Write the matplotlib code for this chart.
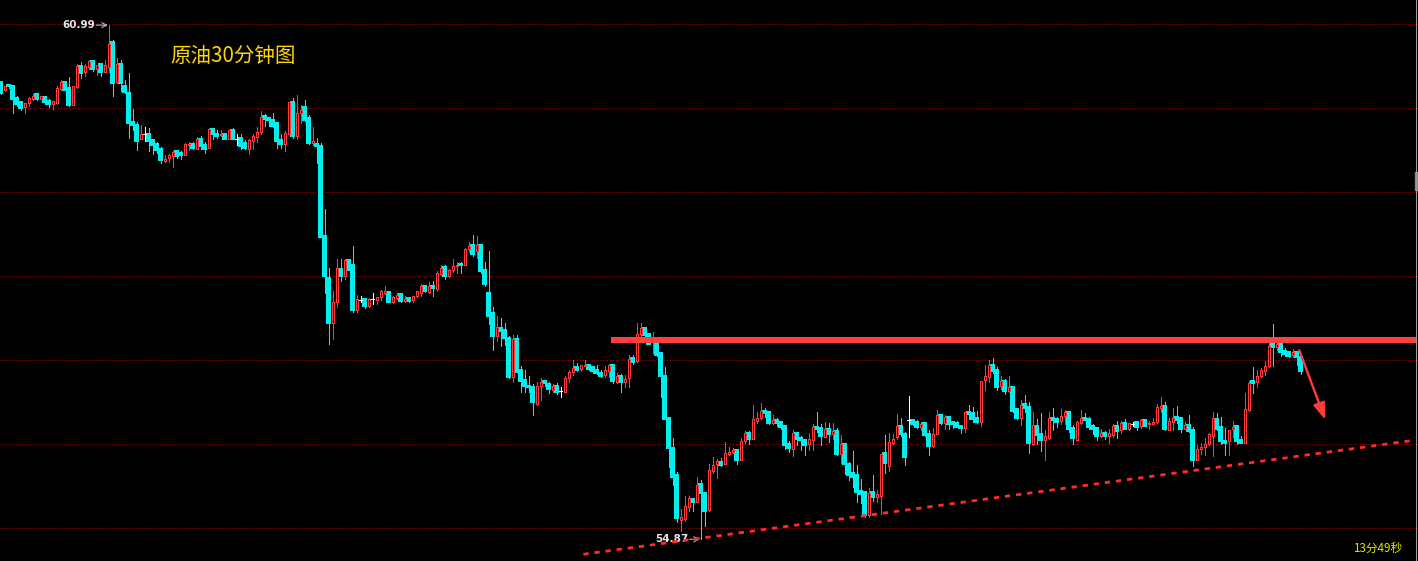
import matplotlib
matplotlib.use("Agg")
import matplotlib.pyplot as plt
from matplotlib.patches import Rectangle
from matplotlib.collections import PatchCollection, LineCollection

plt.rcParams['font.family'] = ['Noto Sans CJK SC', 'DejaVu Sans']

# ---- data: 30-minute crude oil candles (open, high, low, close) ----
opens = [
 60.31,60.22,60.28,60.26,60.12,60.07,60.02,60.06,60.11,60.17,
 60.11,60.14,60.09,60.05,60.06,60.23,60.31,60.24,60.04,60.25,
 60.50,60.43,60.49,60.56,60.47,60.53,60.43,60.49,60.79,60.31,
 60.53,60.26,60.18,59.84,59.80,59.64,59.69,59.70,59.62,59.57,
 59.52,59.37,59.41,59.43,59.49,59.47,59.44,59.56,59.58,59.52,
 59.64,59.56,59.53,59.75,59.70,59.68,59.70,59.64,59.74,59.64,
 59.65,59.59,59.51,59.61,59.66,59.72,59.91,59.88,59.86,59.82,
 59.62,59.57,59.70,60.07,59.67,59.94,60.01,59.89,59.59,59.58,
 59.55,58.48,57.98,57.45,57.69,58.09,58.00,58.20,58.14,57.60,
 57.72,57.73,57.65,57.73,57.72,57.75,57.80,57.81,57.69,57.74,
 57.79,57.71,57.74,57.72,57.76,57.80,57.88,57.81,57.88,57.85,
 58.03,58.11,58.00,58.07,58.12,58.15,58.13,58.33,58.37,58.30,
 58.37,58.07,57.80,57.56,57.29,57.38,57.36,57.26,56.80,57.25,
 56.88,56.76,56.70,56.68,56.48,56.69,56.75,56.72,56.65,56.69,
 56.63,56.62,56.79,56.86,56.92,56.90,56.93,56.95,56.92,56.89,
 56.85,56.83,56.87,56.95,56.74,56.81,56.74,56.79,57.03,56.99,
 57.31,57.39,57.31,57.22,57.21,57.09,56.81,56.31,55.96,55.64,
 55.10,55.11,55.25,55.35,55.31,55.53,55.42,55.22,55.68,55.77,
 55.79,55.77,55.88,55.91,55.93,55.81,56.04,56.13,56.06,56.28,
 56.31,56.40,56.38,56.25,56.29,56.27,56.22,56.00,55.94,56.13,
 56.07,56.05,56.00,56.05,56.21,56.19,56.09,56.18,56.12,56.16,
 55.88,56.00,55.77,55.66,55.63,55.44,55.43,55.16,55.43,55.37,
 55.39,55.90,55.74,56.02,56.09,56.22,56.12,56.29,56.29,56.27,
 56.21,56.25,56.12,55.98,56.12,56.35,56.25,56.33,56.27,56.25,
 56.22,56.19,56.38,56.37,56.31,56.27,56.77,56.80,56.94,56.88,
 56.69,56.75,56.64,56.68,56.42,56.31,56.48,56.44,56.00,56.22,
 56.12,56.05,56.08,56.31,56.30,56.28,56.34,56.38,56.19,56.05,
 56.25,56.31,56.30,56.22,56.19,56.10,56.13,56.10,56.11,56.22,
 56.17,56.25,56.18,56.24,56.27,56.22,56.29,56.24,56.24,56.27,
 56.43,56.46,56.17,56.27,56.32,56.31,56.18,56.23,56.17,55.81,
 55.95,55.97,56.00,56.10,56.30,56.21,56.04,56.04,56.18,56.22,
 56.05,56.02,56.41,56.75,56.74,56.81,56.87,56.93,57.21,57.16,
 57.20,57.11,57.10,57.06,57.10,57.04]
highs = [
 60.31,60.27,60.29,60.28,60.15,60.09,60.06,60.13,60.17,60.17,
 60.15,60.15,60.11,60.09,60.26,60.34,60.31,60.37,60.26,60.53,
 60.55,60.53,60.57,60.58,60.52,60.54,60.57,60.99,60.81,60.60,
 60.57,60.34,60.42,59.99,59.84,59.80,59.78,59.77,59.63,59.60,
 59.54,59.44,59.46,59.49,59.49,59.49,59.59,59.60,59.60,59.66,
 59.67,59.60,59.77,59.75,59.74,59.74,59.70,59.74,59.77,59.70,
 59.69,59.62,59.64,59.69,59.78,59.97,59.93,59.89,59.95,59.82,
 59.70,59.73,60.07,60.12,60.16,60.04,60.10,59.92,59.78,59.65,
 59.59,58.80,58.10,57.82,58.21,58.21,58.21,58.20,58.36,57.78,
 57.77,57.73,57.74,57.80,57.75,57.84,57.88,57.81,57.77,57.80,
 57.80,57.76,57.74,57.77,57.83,57.91,57.89,57.93,57.94,58.06,
 58.13,58.13,58.09,58.21,58.17,58.17,58.34,58.41,58.49,58.48,
 58.37,58.17,58.30,57.63,57.53,57.50,57.44,57.29,57.30,57.30,
 56.93,56.88,56.81,56.72,56.74,56.79,56.75,56.74,56.72,56.73,
 56.68,56.81,56.88,57.00,56.97,56.95,57.00,56.95,56.92,56.95,
 56.89,56.93,56.96,56.95,56.85,56.84,56.83,57.06,57.06,57.45,
 57.45,57.40,57.31,57.34,57.22,57.10,56.92,56.31,56.08,55.67,
 55.23,55.39,55.39,55.36,55.61,55.58,55.43,55.77,55.85,55.82,
 55.84,56.03,55.97,55.96,55.94,56.07,56.16,56.16,56.47,56.38,
 56.49,56.43,56.40,56.35,56.31,56.27,56.23,56.04,56.17,56.13,
 56.10,56.05,56.13,56.24,56.38,56.24,56.27,56.25,56.25,56.19,
 56.11,56.00,55.79,55.92,55.75,55.59,55.44,55.48,55.63,55.46,
 55.89,56.11,56.13,56.12,56.36,56.31,56.15,56.57,56.30,56.29,
 56.27,56.25,56.17,56.19,56.41,56.36,56.35,56.34,56.28,56.28,
 56.23,56.38,56.47,56.44,56.40,56.75,56.94,57.00,57.03,56.92,
 56.81,56.78,56.81,56.69,56.43,56.53,56.59,56.50,56.38,56.30,
 56.37,56.17,56.38,56.43,56.33,56.42,56.41,56.40,56.23,56.28,
 56.41,56.37,56.33,56.24,56.19,56.18,56.16,56.18,56.24,56.28,
 56.28,56.30,56.25,56.27,56.28,56.30,56.30,56.28,56.31,56.48,
 56.56,56.50,56.31,56.43,56.46,56.31,56.27,56.35,56.21,55.99,
 56.02,56.08,56.14,56.39,56.37,56.33,56.20,56.17,56.28,56.22,
 56.10,56.61,56.75,56.92,56.89,56.91,56.99,57.21,57.43,57.21,
 57.20,57.15,57.11,57.14,57.10,57.04]
lows = [
 60.17,60.21,60.24,59.95,60.03,59.98,59.94,60.03,60.10,60.10,
 60.11,60.05,60.01,59.99,60.05,60.22,60.22,60.03,60.04,60.24,
 60.36,60.38,60.47,60.45,60.40,60.39,60.43,60.43,60.15,60.30,
 60.21,60.18,59.65,59.74,59.50,59.64,59.61,59.49,59.46,59.47,
 59.35,59.36,59.36,59.30,59.41,59.40,59.44,59.50,59.52,59.52,
 59.52,59.47,59.53,59.64,59.65,59.67,59.63,59.64,59.63,59.56,
 59.51,59.51,59.46,59.51,59.60,59.69,59.79,59.79,59.78,59.53,
 59.53,59.49,59.70,59.65,59.64,59.82,59.85,59.58,59.56,59.35,
 58.47,57.80,57.19,57.25,57.64,57.94,57.97,58.08,57.57,57.57,
 57.69,57.62,57.63,57.67,57.67,57.72,57.79,57.69,57.68,57.73,
 57.69,57.69,57.69,57.69,57.75,57.76,57.81,57.80,57.77,57.83,
 58.01,57.97,57.99,58.05,58.04,58.04,58.13,58.29,58.24,58.22,
 58.04,57.88,57.43,57.12,57.23,57.17,57.18,56.79,56.74,56.86,
 56.62,56.62,56.62,56.35,56.47,56.53,56.69,56.61,56.62,56.60,
 56.56,56.62,56.74,56.82,56.87,56.87,56.93,56.88,56.85,56.84,
 56.80,56.80,56.80,56.73,56.73,56.62,56.68,56.68,56.96,56.98,
 57.29,57.29,57.20,57.09,57.05,56.56,56.30,55.73,55.52,55.08,
 54.97,55.09,55.21,55.21,55.31,54.87,55.03,55.21,55.66,55.60,
 55.74,55.77,55.87,55.90,55.77,55.81,56.02,56.00,56.06,56.25,
 56.30,56.32,56.24,56.24,56.22,56.18,55.94,55.91,55.86,55.99,
 55.93,55.87,55.93,55.93,56.15,55.99,56.09,56.03,56.06,55.87,
 55.78,55.65,55.58,55.49,55.31,55.30,55.13,55.13,55.33,55.31,
 55.17,55.66,55.68,56.00,56.06,56.10,55.75,56.09,56.23,56.19,
 56.17,56.10,55.87,55.97,56.12,56.24,56.18,56.18,56.19,56.21,
 56.14,56.15,56.30,56.27,56.25,56.22,56.65,56.74,56.85,56.65,
 56.66,56.60,56.62,56.39,56.30,56.23,56.39,55.90,55.99,56.00,
 55.92,55.81,56.06,56.17,56.21,56.24,56.24,56.15,56.00,56.05,
 56.24,56.29,56.18,56.12,56.05,56.09,56.06,56.02,56.09,56.08,
 56.14,56.18,56.17,56.22,56.17,56.19,56.22,56.18,56.24,56.25,
 56.38,56.17,56.17,56.17,56.25,56.15,56.18,56.15,55.74,55.81,
 55.89,55.87,55.99,55.86,56.17,56.00,55.87,55.87,56.09,56.00,
 56.02,56.02,56.40,56.61,56.68,56.80,56.83,56.92,56.93,57.12,
 57.05,57.05,57.04,57.04,56.95,56.84]
closes = [
 60.18,60.26,60.26,60.11,60.05,60.00,60.06,60.12,60.15,60.11,
 60.15,60.07,60.05,60.09,60.24,60.31,60.22,60.04,60.26,60.50,
 60.42,60.50,60.56,60.47,60.52,60.43,60.51,60.76,60.30,60.53,
 60.30,60.19,59.83,59.80,59.61,59.70,59.69,59.61,59.56,59.50,
 59.38,59.40,59.44,59.48,59.43,59.44,59.57,59.58,59.53,59.63,
 59.55,59.52,59.75,59.69,59.67,59.70,59.64,59.74,59.64,59.64,
 59.55,59.53,59.62,59.67,59.72,59.90,59.87,59.86,59.79,59.61,
 59.57,59.71,60.07,59.67,59.95,59.98,59.86,59.59,59.61,59.55,
 58.47,58.00,57.45,57.70,58.10,58.00,58.20,58.08,57.60,57.73,
 57.72,57.65,57.73,57.73,57.75,57.82,57.83,57.69,57.75,57.78,
 57.71,57.73,57.71,57.77,57.82,57.89,57.82,57.89,57.86,58.04,
 58.10,58.00,58.07,58.12,58.13,58.14,58.32,58.36,58.26,58.37,
 58.06,57.91,57.53,57.29,57.40,57.35,57.26,56.80,57.25,56.86,
 56.75,56.69,56.68,56.50,56.70,56.74,56.73,56.66,56.69,56.62,
 56.63,56.79,56.86,56.91,56.88,56.94,56.95,56.90,56.87,56.85,
 56.81,56.89,56.95,56.75,56.81,56.74,56.78,57.02,56.98,57.31,
 57.39,57.30,57.20,57.25,57.06,56.81,56.30,55.96,55.61,55.12,
 55.14,55.27,55.36,55.31,55.52,55.42,55.21,55.69,55.75,55.80,
 55.75,55.90,55.91,55.93,55.81,56.04,56.13,56.06,56.30,56.31,
 56.40,56.37,56.25,56.29,56.25,56.21,55.99,55.96,56.13,56.06,
 56.05,55.99,56.06,56.21,56.18,56.10,56.18,56.12,56.16,55.88,
 56.00,55.77,55.63,55.61,55.43,55.41,55.16,55.42,55.37,55.41,
 55.89,55.78,56.03,56.06,56.22,56.12,55.85,56.29,56.24,56.21,
 56.24,56.11,55.98,56.12,56.35,56.25,56.33,56.24,56.24,56.21,
 56.19,56.38,56.36,56.30,56.27,56.75,56.81,56.94,56.87,56.68,
 56.75,56.63,56.68,56.40,56.31,56.47,56.43,56.02,56.23,56.11,
 56.05,56.10,56.31,56.29,56.27,56.34,56.38,56.18,56.08,56.27,
 56.31,56.29,56.21,56.18,56.10,56.13,56.10,56.13,56.22,56.16,
 56.25,56.18,56.25,56.24,56.21,56.29,56.22,56.25,56.27,56.44,
 56.46,56.18,56.28,56.31,56.29,56.18,56.23,56.16,55.81,55.95,
 55.97,56.00,56.12,56.31,56.18,56.04,56.02,56.17,56.21,56.04,
 56.02,56.42,56.73,56.73,56.81,56.89,56.93,57.17,57.16,57.20,
 57.10,57.08,57.05,57.10,57.04,56.87]

price_levels = [55, 56, 57, 58, 59, 60, 61]
high_label = "60.99"
low_label = "54.87"
title_text = "原油30分钟图"
timer_text = "13分49秒"
resistance = 57.24
support_start = (145.7, 54.69)
support_end = (353.7, 56.05)
arrow_start = (324.7, 57.12)
arrow_end = (331.2, 56.29)

# ---- styling ----
BG = "#000000"
UP = "#ff3c3c"
DOWN = "#00f0f0"
DOJI = "#ffffff"
GRID = "#8c0000"

W, H, DPI = 1418, 561, 100
fig = plt.figure(figsize=(W / DPI, H / DPI), dpi=DPI, facecolor=BG)
ax = fig.add_axes([0, 0, 1, 1], facecolor=BG)
ax.set_xlim(-0.125, (W - 0.5) / 4)
ax.set_ylim(61 - (H - 24.3) / 84, 61 + 24.3 / 84)
ax.axis("off")

px = 1.0 / DPI * 72  # one pixel in points

for lv in price_levels:
    ax.axhline(lv, color=GRID, lw=px, ls=(0, (1.5, 1.5)), zorder=1)

wick_segs, wick_cols = [], []
up_rects, down_rects, doji_segs = [], [], []
for i, (o, h, l, c) in enumerate(zip(opens, highs, lows, closes)):
    if c > o:
        col = UP
    elif c < o:
        col = DOWN
    else:
        col = DOJI
    wick_segs.append([(i, l), (i, h)])
    wick_cols.append(col)
    lo, hi = min(o, c), max(o, c)
    if col == UP:
        up_rects.append(Rectangle((i - 0.25, lo), 0.5, hi - lo))
    elif col == DOWN:
        down_rects.append(Rectangle((i - 0.375, lo), 0.75, hi - lo))
    else:
        doji_segs.append([(i - 0.375, o), (i + 0.375, o)])

ax.add_collection(LineCollection(wick_segs, colors=wick_cols, linewidths=px,
                                 zorder=2, antialiased=False))
ax.add_collection(PatchCollection(down_rects, facecolor=DOWN, edgecolor=DOWN,
                                  linewidth=0.3, zorder=3, antialiased=False))
ax.add_collection(PatchCollection(up_rects, facecolor=BG, edgecolor=UP,
                                  linewidth=px, zorder=3, antialiased=False))
ax.add_collection(LineCollection(doji_segs, colors=DOJI, linewidths=px,
                                 zorder=3, antialiased=False))

# resistance line
ax.plot([152.7, (W - 3) / 4], [resistance, resistance], color="#ff4040",
        lw=6 * px, solid_capstyle="butt", zorder=4)
# support dashed line
ax.plot([support_start[0], support_end[0]], [support_start[1], support_end[1]],
        color="#ff2a2a", lw=2.8 * px, ls=(0, (1.9, 2.1)), zorder=4)
# projection arrow
ax.annotate("", xy=arrow_end, xytext=arrow_start,
            arrowprops=dict(arrowstyle="-|>,head_length=1.0,head_width=0.35",
                            color="#ff3a3a", lw=2.4 * px,
                            shrinkA=0, shrinkB=0), zorder=5)

# high / low labels
hi_idx = highs.index(max(highs))
lo_idx = lows.index(min(lows))
arrow_kw = dict(arrowstyle="->,head_length=0.35,head_width=0.18",
                color="#c8c8c8", lw=px, shrinkA=0, shrinkB=0)
ax.annotate("", xy=(hi_idx - 0.2, max(highs)), xytext=(hi_idx - 3.1, max(highs)),
            arrowprops=arrow_kw)
ax.text(hi_idx - 3.3, max(highs), high_label, color="#e6e6e6", fontsize=7.5,
        family="DejaVu Sans", weight="bold", ha="right", va="center")
ax.annotate("", xy=(lo_idx - 0.2, min(lows)), xytext=(lo_idx - 2.7, min(lows)),
            arrowprops=arrow_kw)
ax.text(lo_idx - 2.9, min(lows), low_label, color="#e6e6e6", fontsize=7.5,
        family="DejaVu Sans", weight="bold", ha="right", va="center")

# title and timer
fig.text(170 / W, 1 - 56 / H, title_text, color="#ffd700", fontsize=14.8,
         ha="left", va="center")
fig.text(1402 / W, 1 - 548 / H, timer_text, color="#e6e600", fontsize=8.4,
         ha="right", va="center")

# frame on the right edge
fig.add_artist(plt.Line2D([1415.5 / W, 1415.5 / W], [0, 1], color="#9a9a9a",
                          lw=px, transform=fig.transFigure))
fig.add_artist(Rectangle((1415 / W, 1 - 190 / H), 3 / W, 18 / H,
                         color="#8a8a8a", transform=fig.transFigure))

fig.savefig("out.png", dpi=DPI, facecolor=BG)
